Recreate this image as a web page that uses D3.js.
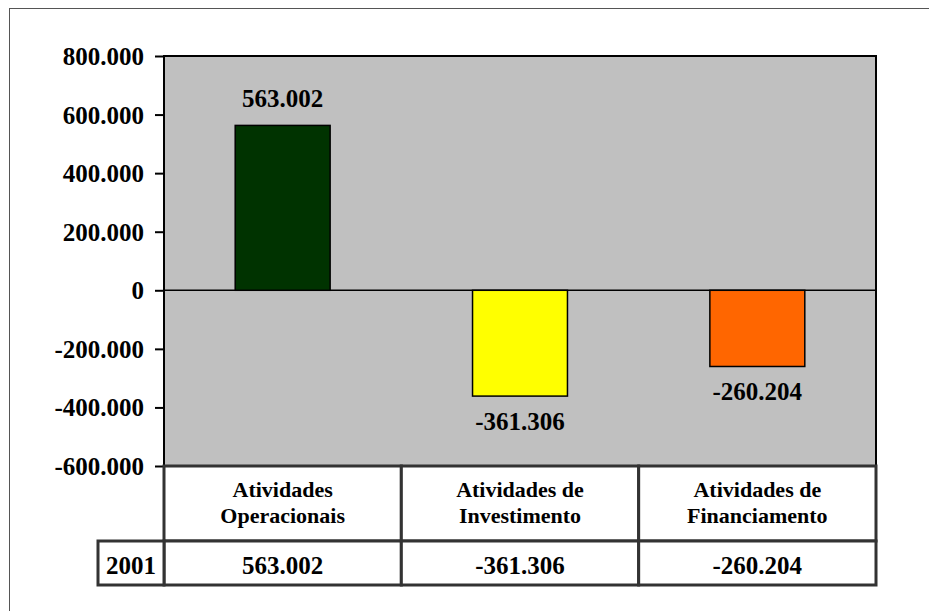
<!DOCTYPE html>
<html>
<head>
<meta charset="utf-8">
<script src="https://cdn.jsdelivr.net/npm/d3@7"></script>
<style>
  html, body { margin: 0; padding: 0; background: #fff; }
  svg { display: block; }
  svg text { font-family: "Liberation Serif", "Times New Roman", serif !important; font-weight: bold; fill: #000; }
</style>
</head>
<body>
<svg id="chart" width="929" height="611"></svg>
<script>
// ---- data ----
const categories = ["Atividades Operacionais", "Atividades de Investimento", "Atividades de Financiamento"];
const values2001 = [563002, -361306, -260204];
const seriesName = "2001";
const barColors = ["#003300", "#FFFF00", "#FF6600"];
const yTicks = [-600000, -400000, -200000, 0, 200000, 400000, 600000, 800000];

// ---- layout ----
const W = 929, H = 611;
const plot = { left: 164, right: 876, top: 56, bottom: 466 };
const headerBottom = 541, tableBottom = 585, seriesCellLeft = 98;
const FONT = "'Liberation Serif', 'Times New Roman', serif";

const locale = d3.formatLocale({ decimal: ",", thousands: ".", grouping: [3], currency: ["", ""], minus: "-" });
const fmt = locale.format(",d");

const svg = d3.select("#chart");

// outer frame (extends past the viewport at right/bottom)
svg.append("rect")
  .attr("x", 9.5).attr("y", 8.5)
  .attr("width", W + 20).attr("height", H + 20)
  .attr("fill", "none").attr("stroke", "#555").attr("stroke-width", 1);

const y = d3.scaleLinear().domain([-600000, 800000]).range([plot.bottom, plot.top]);
const x = d3.scaleBand().domain(categories).range([plot.left, plot.right]).padding(0);

// plot background
svg.append("rect")
  .attr("x", plot.left).attr("y", plot.top)
  .attr("width", plot.right - plot.left).attr("height", plot.bottom - plot.top)
  .attr("fill", "#C0C0C0");

// zero line
svg.append("line")
  .attr("x1", plot.left).attr("x2", plot.right)
  .attr("y1", y(0)).attr("y2", y(0))
  .attr("stroke", "#000").attr("stroke-width", 1.5);

// bars
const bw = x.bandwidth() * 0.4;
svg.selectAll("rect.bar").data(categories).enter().append("rect")
  .attr("class", "bar")
  .attr("x", d => x(d) + (x.bandwidth() - bw) / 2)
  .attr("width", bw)
  .attr("y", (d, i) => y(Math.max(0, values2001[i])))
  .attr("height", (d, i) => Math.abs(y(values2001[i]) - y(0)))
  .attr("fill", (d, i) => barColors[i])
  .attr("stroke", "#000").attr("stroke-width", 1.5);

// data labels
svg.selectAll("text.dl").data(categories).enter().append("text")
  .attr("class", "dl")
  .attr("x", d => x(d) + x.bandwidth() / 2)
  .attr("y", (d, i) => values2001[i] >= 0 ? y(values2001[i]) - 18 : y(values2001[i]) + 34)
  .attr("text-anchor", "middle")
  .style("font-size", "25px")
  .text((d, i) => fmt(values2001[i]));

// plot border (top, left, right)
svg.append("path")
  .attr("d", `M${plot.left},${plot.bottom}V${plot.top}H${plot.right}V${plot.bottom}`)
  .attr("fill", "none").attr("stroke", "#000").attr("stroke-width", 2);

// y axis
const yAxis = d3.axisLeft(y).tickValues(yTicks).tickSize(9).tickPadding(11).tickFormat(fmt);
const gy = svg.append("g").attr("transform", `translate(${plot.left},0)`).call(yAxis)
  .attr("font-family", FONT).attr("font-size", 25);
gy.select(".domain").remove();
gy.selectAll(".tick line").attr("stroke", "#000").attr("stroke-width", 2);
gy.selectAll(".tick text")
  .style("font-size", "25px")
  .attr("fill", "#000")
  .attr("dy", "0.34em");

// ---- data table ----
const tStroke = "#333", tW = 3;
const tg = svg.append("g");
categories.forEach((c, i) => {
  tg.append("rect")
    .attr("x", x(c)).attr("y", plot.bottom)
    .attr("width", x.bandwidth()).attr("height", headerBottom - plot.bottom)
    .attr("fill", "#fff").attr("stroke", tStroke).attr("stroke-width", tW);
  tg.append("rect")
    .attr("x", x(c)).attr("y", headerBottom)
    .attr("width", x.bandwidth()).attr("height", tableBottom - headerBottom)
    .attr("fill", "#fff").attr("stroke", tStroke).attr("stroke-width", tW);
});
tg.append("rect")
  .attr("x", seriesCellLeft).attr("y", headerBottom)
  .attr("width", plot.left - seriesCellLeft).attr("height", tableBottom - headerBottom)
  .attr("fill", "#fff").attr("stroke", tStroke).attr("stroke-width", tW);

categories.forEach((c, i) => {
  const k = c.lastIndexOf(" ");
  const lines = [c.slice(0, k), c.slice(k + 1)];
  const t = tg.append("text")
    .attr("text-anchor", "middle")
    .style("font-size", "22px");
  lines.forEach((ln, j) => {
    t.append("tspan").attr("x", x(c) + x.bandwidth() / 2).attr("y", 497 + j * 26).text(ln);
  });
  tg.append("text")
    .attr("x", x(c) + x.bandwidth() / 2)
    .attr("y", 574)
    .attr("text-anchor", "middle")
    .style("font-size", "25px")
    .text(fmt(values2001[i]));
});
tg.append("text")
  .attr("x", (seriesCellLeft + plot.left) / 2)
  .attr("y", 574)
  .attr("text-anchor", "middle")
  .style("font-size", "25px")
  .text(seriesName);
</script>
</body>
</html>
